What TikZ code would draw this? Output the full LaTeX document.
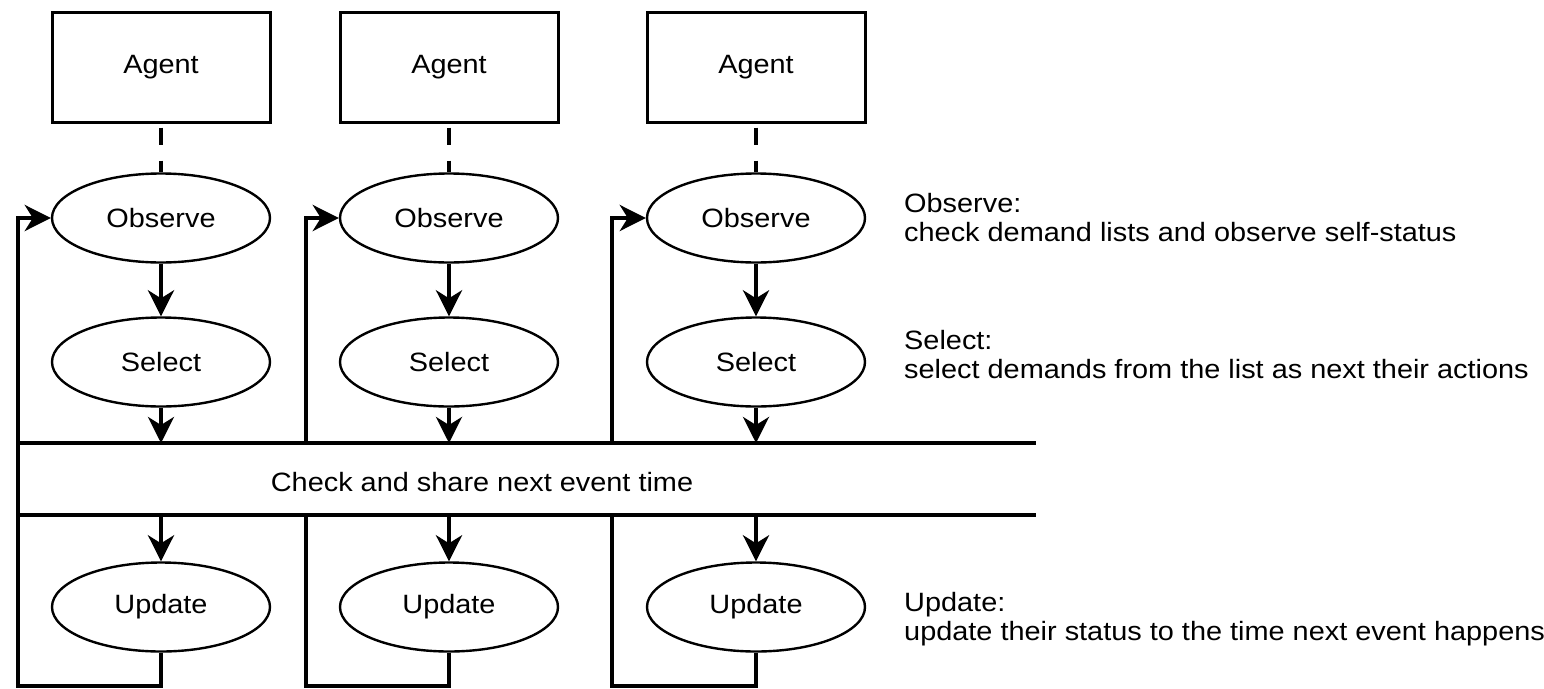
\documentclass[tikz,border=0pt]{standalone}
\usepackage{fontspec}
\setmainfont{Liberation Sans}[FakeStretch=1.09]
\usetikzlibrary{shapes.geometric,arrows.meta}
\tikzset{
  agentbox/.style={draw, line width=3pt, minimum width=218pt, minimum height=110pt, inner sep=0pt},
  stage/.style={draw, ellipse, line width=2.4pt, minimum width=218pt, minimum height=89pt, inner sep=0pt},
  link/.style={line width=3.5pt, dash pattern=on 17pt off 16pt, dash phase=29pt},
  flow/.style={line width=4pt, -{Stealth[length=26pt,width=26pt,inset=8pt]}},
  loopline/.style={line width=4pt},
  note/.style={anchor=north west, align=left, inner sep=0pt}
}
\newcommand{\myColumn}[3]{
\node[agentbox] (agent#1) at (#2,67) {Agent};
\node[stage] (obs#1) at (#2,218) {Observe};
\node[stage] (sel#1) at (#2,362) {Select};
\node[stage] (upd#1) at (#2,607) {Update};
\draw[link] (agent#1) -- (obs#1);
\draw[flow] (obs#1) -- (sel#1);
\coordinate (loop#1) at (#3,686);
\draw[flow] (upd#1) -- (upd#1 |- loop#1) -- (loop#1) -- (loop#1 |- obs#1) -- (obs#1);
}

\begin{document}
\begin{tikzpicture}[x=1pt, y=-1pt, font=\fontsize{26.5}{29}\selectfont]
	\useasboundingbox (0,0) rectangle (1544,688);

	\myColumn{1}{161}{18}
	\myColumn{2}{449}{306}
	\myColumn{3}{756}{612}

	\coordinate (bandNW) at (16,443);
	\coordinate (bandSE) at (1036,515);
	\fill[white] ([xshift=4pt]bandNW) rectangle (bandSE);
	\draw[loopline] (bandNW) -- (bandNW -| bandSE);
	\draw[loopline] (bandNW |- bandSE) -- (bandSE);
	\node[anchor=base] (band) at (482,491) {Check and share next event time};

	\foreach \i in {1,2,3}{
		\draw[flow] (sel\i) -- (sel\i |- bandNW);
		\draw[flow] (upd\i |- bandSE) -- (upd\i);
	}

	\node[note] (noteObs) at (904,193) {Observe:\\check demand lists and observe self-status};
	\node[note] (noteSel) at (904,330) {Select:\\select demands from the list as next their actions};
	\node[note] (noteUpd) at (904,592) {Update:\\update their status to the time next event happens};
\end{tikzpicture}
\end{document}
